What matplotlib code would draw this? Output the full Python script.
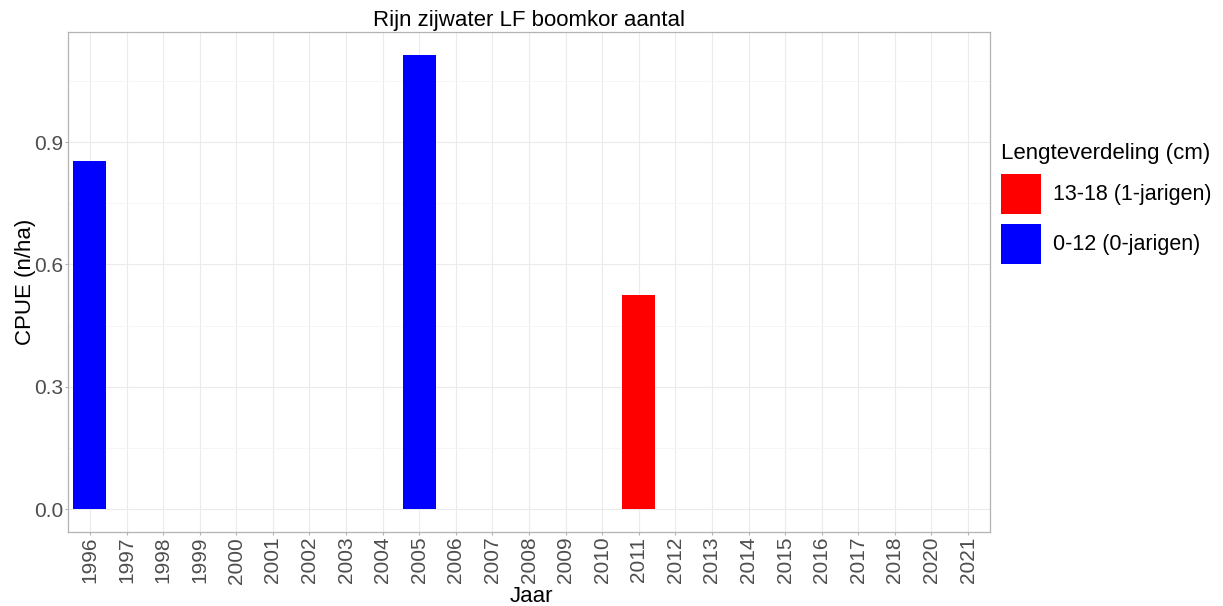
import matplotlib
matplotlib.use("Agg")
import matplotlib.pyplot as plt
from matplotlib.patches import Patch
import numpy as np

plt.rcParams['font.family'] = ['Liberation Sans', 'DejaVu Sans']

years = ['1996', '1997', '1998', '1999', '2000', '2001', '2002', '2003', '2004',
         '2005', '2006', '2007', '2008', '2009', '2010', '2011', '2012', '2013',
         '2014', '2015', '2016', '2017', '2018', '2020', '2021']
bar_years = ['1996', '2005', '2011']
bar_values = [0.853, 1.114, 0.525]
bar_groups = ['0-12 (0-jarigen)', '0-12 (0-jarigen)', '13-18 (1-jarigen)']
group_order = ['13-18 (1-jarigen)', '0-12 (0-jarigen)']
group_colors = {'13-18 (1-jarigen)': '#FF0000', '0-12 (0-jarigen)': '#0000FF'}
yticks = [0.0, 0.3, 0.6, 0.9]
yticklabels = ['0.0', '0.3', '0.6', '0.9']

W, H = 1223, 606
fig = plt.figure(figsize=(W / 100, H / 100), dpi=100)
L, R, T, B = 68, 990, 32, 532
ax = fig.add_axes([L / W, 1 - B / H, (R - L) / W, (B - T) / H])

xpos = {y: i for i, y in enumerate(years)}
xs = [xpos[y] for y in bar_years]
ax.bar(xs, bar_values, width=0.9, color=[group_colors[g] for g in bar_groups],
       zorder=3)

ymax = max(bar_values)
ax.set_ylim(-0.05 * ymax, ymax * 1.05)
ax.set_xlim(-0.6, len(years) - 1 + 0.6)

grid_c = '#ebebeb'
ax.set_xticks(range(len(years)))
ax.set_xticklabels(years, rotation=90, fontsize=15, color='#4d4d4d')
ax.set_yticks(yticks)
ax.set_yticklabels(yticklabels, fontsize=15, color='#4d4d4d')
ax.set_yticks([0.15, 0.45, 0.75, 1.05], minor=True)
ax.grid(True, which='major', color=grid_c, linewidth=0.8, zorder=0)
ax.grid(True, which='minor', axis='y', color='#f3f3f3', linewidth=0.5, zorder=0)
ax.tick_params(axis='both', which='major', length=2, width=0.8, color='#b3b3b3', pad=1.5)
ax.tick_params(axis='y', which='minor', length=0)
for s in ax.spines.values():
    s.set_color('#b3b3b3')
    s.set_linewidth(0.9)
ax.set_axisbelow(True)

ax.set_xlabel('Jaar', fontsize=16, color='black')
ax.xaxis.set_label_coords(0.503, -70 / (B - T))
ax.xaxis.label.set_va('baseline')
ax.set_ylabel('CPUE (n/ha)', fontsize=16, color='black', labelpad=-1.5)
ax.set_title('Rijn zijwater LF boomkor aantal', fontsize=16, color='black', pad=4)

fs = 15.5
fpx = fs * 100 / 72
handles = [Patch(facecolor=group_colors[g], edgecolor='none', label=g) for g in group_order]
leg = fig.legend(handles=handles, title='Lengteverdeling (cm)', loc='upper left',
                 bbox_to_anchor=(992 / W, 1 - 134 / H), frameon=False,
                 fontsize=fs, title_fontsize=16,
                 handlelength=40 / fpx, handleheight=(40 / fpx - 0.245) / 0.65,
                 labelspacing=10 / fpx, handletextpad=12 / fpx, alignment='left',
                 borderaxespad=0)

fig.savefig('out.png', dpi=100)
